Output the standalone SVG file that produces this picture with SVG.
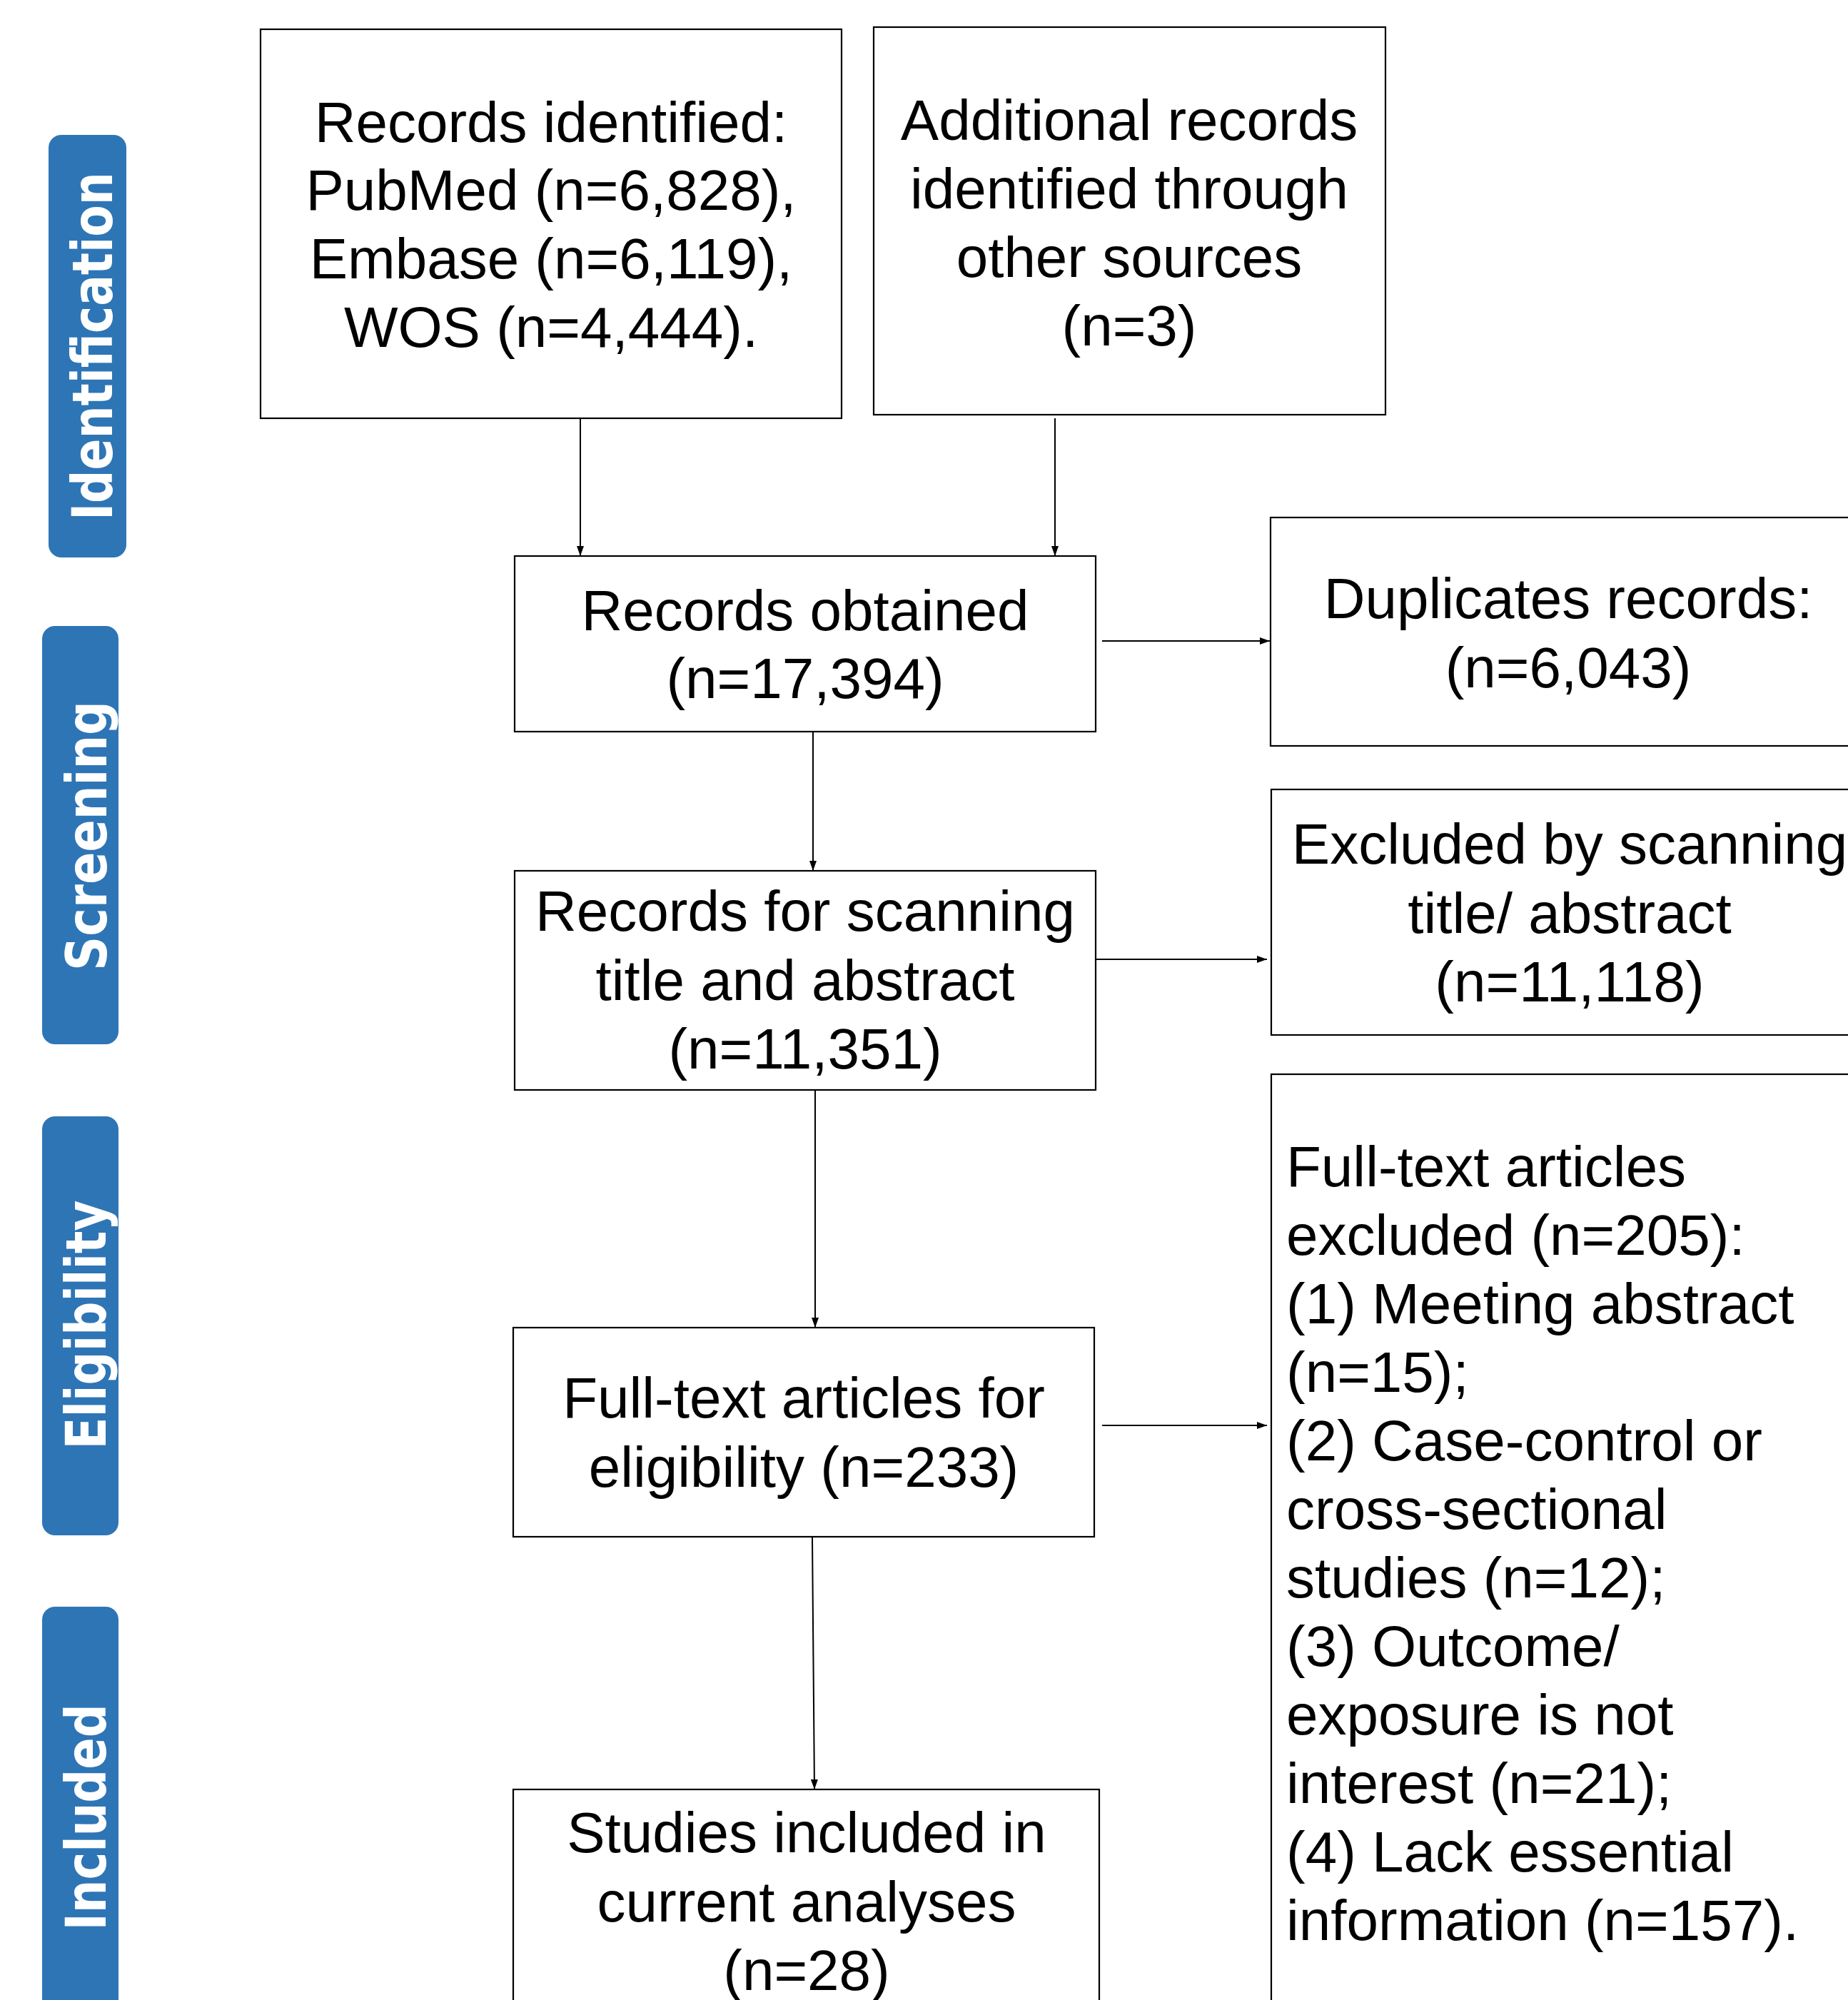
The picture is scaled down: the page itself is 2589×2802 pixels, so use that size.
<svg xmlns="http://www.w3.org/2000/svg" width="2589" height="2802" viewBox="0 0 2589 2802">
<style>
.box{fill:#fff;stroke:#000;stroke-width:2.2}
.t{font-family:"Liberation Sans",Arial,sans-serif;font-size:80px;fill:#000}
.c{text-anchor:middle}
.lab{fill:#2E75B6}
.lt{font-family:"DejaVu Sans",Verdana,sans-serif;font-weight:bold;font-size:78px;fill:#fff;text-anchor:middle}
.conn{stroke:#000;stroke-width:2;fill:none;marker-end:url(#ah)}
</style>
<defs>
<marker id="ah" markerUnits="userSpaceOnUse" markerWidth="14" markerHeight="10" refX="14" refY="5" orient="auto">
<path d="M0,0 L14,5 L0,10 z" fill="#000"/>
</marker>
</defs>
<rect width="2589" height="2802" fill="#fff"/>

<g id="label-identification">
<rect class="lab" x="68" y="189" width="109" height="592" rx="18"/>
<text class="lt" transform="translate(157,485) rotate(-90)" textLength="488" lengthAdjust="spacingAndGlyphs">Identification</text>
</g>
<g id="label-screening">
<rect class="lab" x="59" y="877" width="107" height="586" rx="18"/>
<text class="lt" transform="translate(149,1171) rotate(-90)" textLength="378" lengthAdjust="spacingAndGlyphs">Screening</text>
</g>
<g id="label-eligibility">
<rect class="lab" x="59" y="1564" width="107" height="587" rx="18"/>
<text class="lt" transform="translate(148,1856) rotate(-90)" textLength="349" lengthAdjust="spacingAndGlyphs">Eligibility</text>
</g>
<g id="label-included">
<rect class="lab" x="59" y="2251" width="107" height="600" rx="18"/>
<text class="lt" transform="translate(148,2546) rotate(-90)" textLength="317" lengthAdjust="spacingAndGlyphs">Included</text>
</g>

<g id="node-records-identified">
<rect class="box" x="365" y="41" width="814" height="545"/>
<text class="t c" x="772" y="199">Records identified:</text>
<text class="t c" x="772" y="294">PubMed (n=6,828),</text>
<text class="t c" x="772" y="390">Embase (n=6,119),</text>
<text class="t c" x="772" y="486">WOS (n=4,444).</text>
</g>
<g id="node-additional">
<rect class="box" x="1224" y="38" width="717" height="543"/>
<text class="t c" x="1582" y="196">Additional records</text>
<text class="t c" x="1582" y="292">identified through</text>
<text class="t c" x="1582" y="388">other sources</text>
<text class="t c" x="1582" y="484">(n=3)</text>
</g>
<g id="node-obtained">
<rect class="box" x="721" y="779" width="814" height="246"/>
<text class="t c" x="1128" y="883">Records obtained</text>
<text class="t c" x="1128" y="978">(n=17,394)</text>
</g>
<g id="node-duplicates">
<rect class="box" x="1780" y="725" width="840" height="320"/>
<text class="t c" x="2197" y="866">Duplicates records:</text>
<text class="t c" x="2197" y="963">(n=6,043)</text>
</g>
<g id="node-scanning">
<rect class="box" x="721" y="1220" width="814" height="307"/>
<text class="t c" x="1128" y="1304">Records for scanning</text>
<text class="t c" x="1128" y="1401">title and abstract</text>
<text class="t c" x="1128" y="1497">(n=11,351)</text>
</g>
<g id="node-excluded-scanning">
<rect class="box" x="1781" y="1106" width="840" height="344"/>
<text class="t c" x="2199" y="1210">Excluded by scanning</text>
<text class="t c" x="2199" y="1307">title/ abstract</text>
<text class="t c" x="2199" y="1403">(n=11,118)</text>
</g>
<g id="node-fulltext">
<rect class="box" x="719" y="1860" width="814" height="293"/>
<text class="t c" x="1126" y="1986">Full-text articles for</text>
<text class="t c" x="1126" y="2083">eligibility (n=233)</text>
</g>
<g id="node-fulltext-excluded">
<rect class="box" x="1781" y="1505" width="840" height="1320"/>
<text class="t" x="1802" y="1662">Full-text articles</text>
<text class="t" x="1802" y="1758">excluded (n=205):</text>
<text class="t" x="1802" y="1854">(1) Meeting abstract</text>
<text class="t" x="1802" y="1950">(n=15);</text>
<text class="t" x="1802" y="2046">(2) Case-control or</text>
<text class="t" x="1802" y="2142">cross-sectional</text>
<text class="t" x="1802" y="2238">studies (n=12);</text>
<text class="t" x="1802" y="2334">(3) Outcome/</text>
<text class="t" x="1802" y="2430">exposure is not</text>
<text class="t" x="1802" y="2526">interest (n=21);</text>
<text class="t" x="1802" y="2622">(4) Lack essential</text>
<text class="t" x="1802" y="2718">information (n=157).</text>
</g>
<g id="node-included">
<rect class="box" x="719" y="2507" width="821" height="340"/>
<text class="t c" x="1130" y="2595">Studies included in</text>
<text class="t c" x="1130" y="2692">current analyses</text>
<text class="t c" x="1130" y="2788">(n=28)</text>
</g>

<g id="connectors">
<line class="conn" x1="813" y1="587" x2="813" y2="779"/>
<line class="conn" x1="1478" y1="586" x2="1478" y2="779"/>
<line class="conn" x1="1544" y1="898" x2="1779" y2="898"/>
<line class="conn" x1="1139" y1="1026" x2="1139" y2="1220"/>
<line class="conn" x1="1536" y1="1344" x2="1775" y2="1344"/>
<line class="conn" x1="1142" y1="1528" x2="1142" y2="1860"/>
<line class="conn" x1="1138" y1="2154" x2="1141" y2="2507"/>
<line class="conn" x1="1544" y1="1997" x2="1775" y2="1997"/>
</g>
</svg>
